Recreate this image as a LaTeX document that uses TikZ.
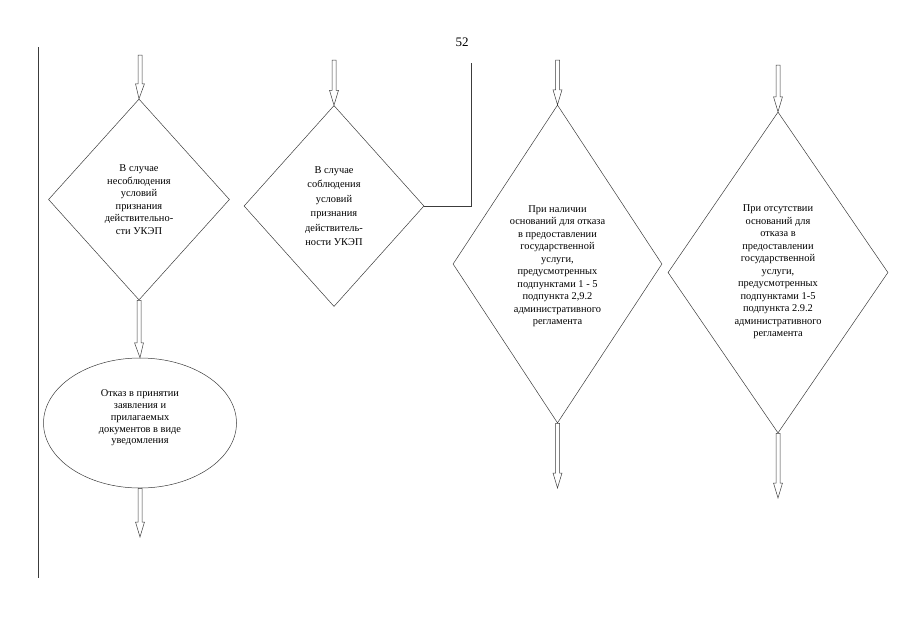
\documentclass[tikz,border=0pt]{standalone}
\usepackage{fontspec}
\setmainfont{Liberation Serif}
\usepackage{tikz}
\usetikzlibrary{shapes.geometric, calc}
\definecolor{linegray}{RGB}{60, 60, 60}

\tikzset{
  dia/.style={draw=linegray, diamond, inner sep=0pt, line width=0.5pt},
  oval/.style={draw=linegray, ellipse, inner sep=0pt, line width=0.5pt},
  txt/.style={align=center, inner sep=0pt, font=\fontsize{10.4}{12.5}\selectfont},
  hollow/.style={draw=linegray, line width=0.5pt, to path={
    let \p1=(\tikztostart), \p2=(\tikztotarget) in
    (\x1-2pt,\y1) -- (\x1-2pt,\y2+15pt) -- (\x1-4.5pt,\y2+15pt) -- (\x2,\y2)
    -- (\x1+4.5pt,\y2+15pt) -- (\x1+2pt,\y2+15pt) -- (\x1+2pt,\y1) -- cycle}}
}

\begin{document}
\begin{tikzpicture}[x=1pt, y=-1pt]
  \useasboundingbox (0,0) rectangle (905,640);

  % page number and margin line
  \node[font=\fontsize{13}{15}\selectfont] (page) at (462,42) {52};
  \coordinate (mtop) at (38,47);
  \coordinate (mbot) at (38,578);
  \draw[linegray, line width=0.6pt] (mtop) -- (mbot);

  % decisions
  \node[dia, minimum width=181pt, minimum height=201pt] (d1) at (139,199.5) {};
  \node[txt] (d1t) at (d1.center) {В случае\\несоблюдения\\условий\\признания\\действительно-\\сти УКЭП};

  \node[dia, minimum width=180pt, minimum height=201pt] (d2) at (334,206) {};
  \node[txt, font=\fontsize{10.4}{14.5}\selectfont] (d2t) at (d2.center) {В случае\\соблюдения\\условий\\признания\\действитель-\\ности УКЭП};

  \node[dia, minimum width=209pt, minimum height=318pt] (d3) at (557.5,264) {};
  \node[txt] (d3t) at (557.5,266) {При наличии\\оснований для отказа\\в предоставлении\\государственной\\услуги,\\предусмотренных\\подпунктами 1 - 5\\подпункта 2,9.2\\административного\\регламента};

  \node[dia, minimum width=220pt, minimum height=321pt] (d4) at (778,272.5) {};
  \node[txt] (d4t) at (778,272) {При отсутствии\\оснований для\\отказа в\\предоставлении\\государственной\\услуги,\\предусмотренных\\подпунктами 1-5\\подпункта 2.9.2\\административного\\регламента};

  % refusal
  \node[oval, minimum width=193pt, minimum height=130pt] (refusal) at (140,423) {};
  \node[txt, font=\fontsize{10.4}{11.8}\selectfont] (reft) at (140,418) {Отказ в принятии\\заявления и\\прилагаемых\\документов в виде\\уведомления};

  % free ends
  \coordinate (in1) at (140,55);
  \coordinate (in2) at (334,60);
  \coordinate (in3) at (557.5,60);
  \coordinate (in4) at (778,65);
  \coordinate (out1) at (140,537);
  \coordinate (out3) at (557.5,488);
  \coordinate (out4) at (778,498);
  \coordinate (up2) at (471,63);

  % arrows
  \draw[hollow] (in1) to (d1.north);
  \draw[hollow] (d1.south) to (refusal.north);
  \draw[hollow] (refusal.south) to (out1);
  \draw[hollow] (in2) to (d2.north);
  \draw[hollow] (in3) to (d3.north);
  \draw[hollow] (d3.south) to (out3);
  \draw[hollow] (in4) to (d4.north);
  \draw[hollow] (d4.south) to (out4);

  \draw[linegray, line width=0.6pt] (d2.east) -| (up2);
\end{tikzpicture}
\end{document}
